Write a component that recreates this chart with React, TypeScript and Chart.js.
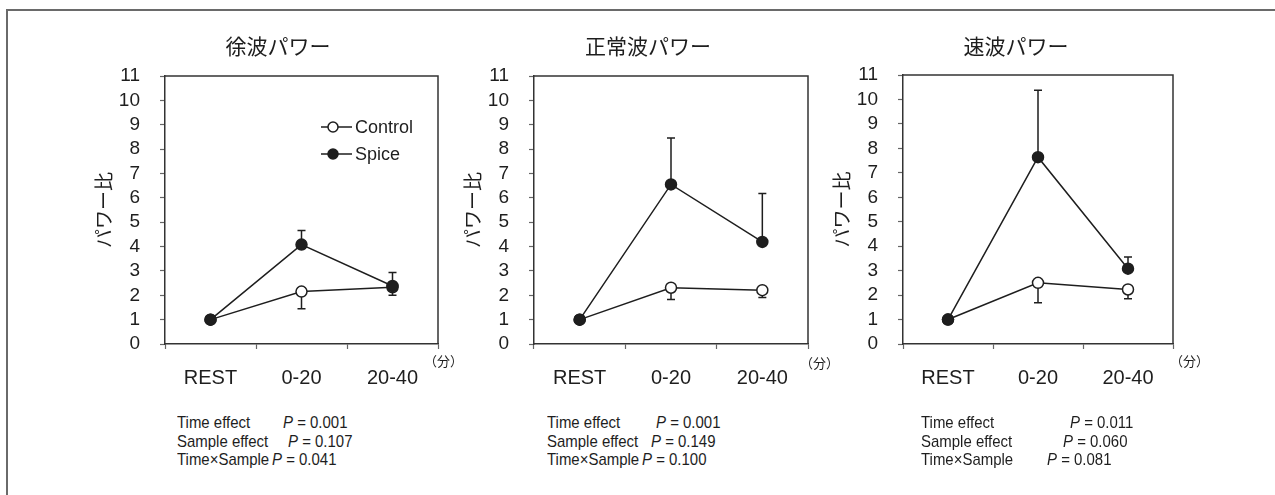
import React, { useEffect, useRef } from 'react';
import { Chart, registerables } from 'chart.js';

Chart.register(...registerables);

// ---------- data ----------
const categories = ['REST', '0-20', '20-40'];
const panelTitles = ['徐波パワー', '正常波パワー', '速波パワー'];
const yAxisTitle = 'パワー比';
const seriesNames = ['Control', 'Spice'];
const unitLabel = '（分）';

const slowControl = [1, 2.15, 2.33];
const slowControlErr = [0, 0.7, 0.33];
const slowSpice = [1, 4.08, 2.38];
const slowSpiceErr = [0, 0.58, 0.55];

const normalControl = [1, 2.31, 2.21];
const normalControlErr = [0, 0.48, 0.3];
const normalSpice = [1, 6.55, 4.19];
const normalSpiceErr = [0, 1.91, 1.99];

const fastControl = [1, 2.5, 2.23];
const fastControlErr = [0, 0.81, 0.38];
const fastSpice = [1, 7.64, 3.08];
const fastSpiceErr = [0, 2.74, 0.48];

const yTickMin = 0;
const yTickMax = 11;

const statLabels = ['Time effect', 'Sample effect', 'Time×Sample'];
const slowP = ['0.001', '0.107', '0.041'];
const normalP = ['0.001', '0.149', '0.100'];
const fastP = ['0.011', '0.060', '0.081'];

// ---------- layout ----------
const FONT = '"Liberation Sans", Arial, sans-serif';
const CJK = '"Noto Sans CJK JP", "Noto Sans CJK SC", sans-serif';
const INK = '#1e1e1e';
const CANVAS_H = 400;
const Y_AXIS_W = 73;

type PanelLayout = {
  axisX: number;
  right: number;
  top: number;
  bottom: number;
  titleX: number;
  unitX: number;
  unitY: number;
  textX: number;
  pX: number[];
  legend: boolean;
};

const layouts: PanelLayout[] = [
  { axisX: 165, right: 438, top: 76, bottom: 344, titleX: 278, unitX: 424, unitY: 353, textX: 177, pX: [283, 288, 272], legend: true },
  { axisX: 534, right: 808, top: 76, bottom: 344, titleX: 648, unitX: 800, unitY: 355, textX: 547, pX: [656, 651, 642], legend: false },
  { axisX: 903, right: 1173, top: 75, bottom: 344, titleX: 1016, unitX: 1170, unitY: 353, textX: 921, pX: [1070, 1063, 1047], legend: false },
];

const panelData = [
  { control: slowControl, controlErr: slowControlErr, spice: slowSpice, spiceErr: slowSpiceErr, p: slowP },
  { control: normalControl, controlErr: normalControlErr, spice: normalSpice, spiceErr: normalSpiceErr, p: normalP },
  { control: fastControl, controlErr: fastControlErr, spice: fastSpice, spiceErr: fastSpiceErr, p: fastP },
];

// ---------- plugins ----------
const errorBarPlugin = {
  id: 'errorBars',
  beforeDatasetsDraw(chart: any) {
    const ctx = chart.ctx;
    const yScale = chart.scales.y;
    chart.data.datasets.forEach((ds: any, di: number) => {
      const meta = chart.getDatasetMeta(di);
      if (!ds.errValues) return;
      ds.errValues.forEach((err: number, i: number) => {
        if (!err) return;
        const pt = meta.data[i];
        const v = ds.data[i] + (ds.errDir === 'up' ? err : -err);
        const yEnd = yScale.getPixelForValue(v);
        ctx.save();
        ctx.strokeStyle = INK;
        ctx.lineWidth = 1.5;
        ctx.beginPath();
        ctx.moveTo(pt.x, pt.y);
        ctx.lineTo(pt.x, yEnd);
        ctx.moveTo(pt.x - 4, yEnd);
        ctx.lineTo(pt.x + 4, yEnd);
        ctx.stroke();
        ctx.restore();
      });
    });
  },
};

const boxPlugin = {
  id: 'boxFrame',
  afterDraw(chart: any) {
    const { ctx, chartArea } = chart;
    ctx.save();
    ctx.strokeStyle = '#333';
    ctx.lineWidth = 1.5;
    ctx.beginPath();
    ctx.moveTo(chartArea.left, chartArea.top);
    ctx.lineTo(chartArea.right, chartArea.top);
    ctx.lineTo(chartArea.right, chartArea.bottom);
    ctx.stroke();
    ctx.restore();
  },
};

const innerLegendPlugin = {
  id: 'innerLegend',
  afterDraw(chart: any, _args: any, opts: any) {
    if (!opts || !opts.show) return;
    const { ctx, chartArea } = chart;
    const order = [1, 0]; // Control, Spice (datasets stored spice first)
    order.forEach((di, row) => {
      const ds = chart.data.datasets[di];
      const y = chartArea.top + opts.dy + row * opts.gap;
      const x0 = chartArea.left + opts.dx;
      ctx.save();
      ctx.strokeStyle = INK;
      ctx.lineWidth = 1.5;
      ctx.beginPath();
      ctx.moveTo(x0, y);
      ctx.lineTo(x0 + 31, y);
      ctx.stroke();
      ctx.beginPath();
      ctx.arc(x0 + 12, y, 5, 0, Math.PI * 2);
      ctx.fillStyle = ds.pointBackgroundColor;
      ctx.fill();
      ctx.stroke();
      ctx.fillStyle = INK;
      ctx.font = `18px ${FONT}`;
      ctx.textBaseline = 'middle';
      ctx.textAlign = 'left';
      ctx.fillText(ds.label, x0 + 34, y + 1);
      ctx.restore();
    });
  },
};

function Panel({ idx }: { idx: number }) {
  const ref = useRef<HTMLCanvasElement>(null);
  const L = layouts[idx];
  const D = panelData[idx];
  const left = L.axisX - Y_AXIS_W;
  const width = L.right + 12 - left;

  useEffect(() => {
    const chart = new Chart(ref.current as HTMLCanvasElement, {
      type: 'line',
      data: {
        labels: categories,
        datasets: [
          {
            label: seriesNames[1],
            data: D.spice,
            errValues: D.spiceErr,
            errDir: 'up',
            borderColor: INK,
            borderWidth: 1.5,
            pointBackgroundColor: INK,
            pointBorderColor: INK,
            pointBorderWidth: 1.5,
            pointRadius: 5.5,
            tension: 0,
            order: 0,
          } as any,
          {
            label: seriesNames[0],
            data: D.control,
            errValues: D.controlErr,
            errDir: 'down',
            borderColor: INK,
            borderWidth: 1.5,
            pointBackgroundColor: '#ffffff',
            pointBorderColor: INK,
            pointBorderWidth: 1.5,
            pointRadius: 5.5,
            tension: 0,
            order: 1,
          } as any,
        ],
      },
      options: {
        responsive: false,
        animation: false,
        layout: { padding: { left: 0, right: 12, top: L.top, bottom: 0 } },
        plugins: {
          legend: { display: false },
          tooltip: { enabled: false },
          innerLegend: { show: L.legend, dx: 156, dy: 51, gap: 27 },
        } as any,
        scales: {
          x: {
            type: 'category',
            offset: true,
            grid: { display: true, offset: true, drawOnChartArea: false, drawTicks: true, tickLength: 5, color: '#666', tickWidth: 1.2 },
            border: { display: true, color: '#333', width: 1.5 },
            ticks: { color: INK, font: { family: FONT, size: 20 }, padding: 17, maxRotation: 0 },
            afterFit: (s: any) => { s.height = CANVAS_H - L.bottom; },
          },
          y: {
            min: yTickMin,
            max: yTickMax,
            grid: { display: true, drawOnChartArea: false, drawTicks: true, tickLength: 5, color: '#666', tickWidth: 1.2 },
            border: { display: true, color: '#333', width: 1.5 },
            ticks: { stepSize: 1, autoSkip: false, color: INK, font: { family: FONT, size: 19 }, padding: 20 },
            title: { display: true, text: yAxisTitle, color: INK, font: { family: CJK, size: 19 }, padding: { top: 0, bottom: 0 } },
            afterFit: (s: any) => { s.width = Y_AXIS_W; },
          },
        },
      },
      plugins: [errorBarPlugin, boxPlugin, innerLegendPlugin],
    } as any);
    return () => chart.destroy();
  }, []);

  const statStyle: React.CSSProperties = {
    position: 'absolute', font: `17px ${FONT}`, lineHeight: '18px', color: INK, whiteSpace: 'nowrap',
    transform: 'scaleX(0.88)', transformOrigin: 'left center',
  };

  return (
    <>
      <canvas
        ref={ref}
        width={width}
        height={CANVAS_H}
        style={{ position: 'absolute', left, top: 0, width, height: CANVAS_H }}
      />
      <div
        style={{
          position: 'absolute', left: L.titleX - 100, top: 31, width: 200, textAlign: 'center',
          font: `21px ${CJK}`, lineHeight: '28px', color: INK,
        }}
      >
        {panelTitles[idx]}
      </div>
      <div style={{ position: 'absolute', left: L.unitX, top: L.unitY, font: `13px ${CJK}`, lineHeight: '16px', color: INK, whiteSpace: 'nowrap' }}>
        {unitLabel}
      </div>
      {statLabels.map((lab, r) => (
        <React.Fragment key={r}>
          <div style={{ ...statStyle, left: L.textX, top: 414 + r * 18.5 }}>{lab}</div>
          <div style={{ ...statStyle, left: L.pX[r], top: 414 + r * 18.5 }}>
            <i>P</i> = {D.p[r]}
          </div>
        </React.Fragment>
      ))}
    </>
  );
}

export default function App() {
  return (
    <div style={{ position: 'absolute', left: 0, top: 0, width: 1275, height: 495, background: '#fff', overflow: 'hidden' }}>
      <div style={{ position: 'absolute', left: 6, top: 9, right: 0, bottom: 0, borderTop: '2px solid #6a6a6a', borderLeft: '2px solid #6a6a6a' }} />
      {[0, 1, 2].map((i) => (
        <Panel key={i} idx={i} />
      ))}
    </div>
  );
}
